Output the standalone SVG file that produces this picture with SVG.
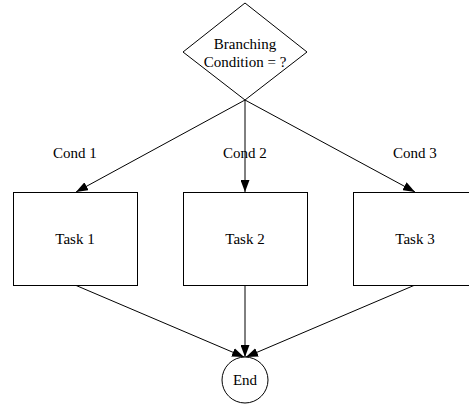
<svg xmlns="http://www.w3.org/2000/svg" width="469" height="406" viewBox="0 0 469 406">
<style>
.s{fill:#fff;stroke:#000;stroke-width:1}
.t{font-family:"Liberation Serif","Times New Roman",serif;font-size:15px;fill:#000;text-anchor:middle}
.c{stroke:#000;stroke-width:1;fill:none;marker-end:url(#a)}
</style>
<defs>
<marker id="a" viewBox="0 0 12 9" refX="12" refY="4.5" markerWidth="12" markerHeight="9" markerUnits="userSpaceOnUse" orient="auto">
<path d="M0,0 L12,4.5 L0,9 Z" fill="#000"/>
</marker>
</defs>
<rect width="469" height="406" fill="#fff"/>
<g id="connectors">
<line class="c" x1="245" y1="100" x2="76" y2="192"/>
<line class="c" x1="245" y1="100" x2="245" y2="192"/>
<line class="c" x1="245" y1="100" x2="415" y2="192"/>
<line class="c" x1="75" y1="285" x2="244" y2="357"/>
<line class="c" x1="245" y1="285" x2="245" y2="357"/>
<line class="c" x1="415" y1="285" x2="246" y2="357"/>
<text class="t" x="75" y="158">Cond 1</text>
<text class="t" x="245" y="158">Cond 2</text>
<text class="t" x="415" y="158">Cond 3</text>
</g>
<g id="decision">
<polygon class="s" points="245,3 307,52 245,100 183,52"/>
<text class="t" x="245" y="49">Branching</text>
<text class="t" x="245" y="67">Condition = ?</text>
</g>
<g id="task1">
<rect class="s" x="13.5" y="192.5" width="124" height="93"/>
<text class="t" x="75" y="244">Task 1</text>
</g>
<g id="task2">
<rect class="s" x="183.5" y="192.5" width="124" height="93"/>
<text class="t" x="245" y="244">Task 2</text>
</g>
<g id="task3">
<rect class="s" x="353.5" y="192.5" width="124" height="93"/>
<text class="t" x="415" y="244">Task 3</text>
</g>
<g id="end">
<circle class="s" cx="245" cy="380" r="23"/>
<text class="t" x="245" y="385">End</text>
</g>
</svg>
